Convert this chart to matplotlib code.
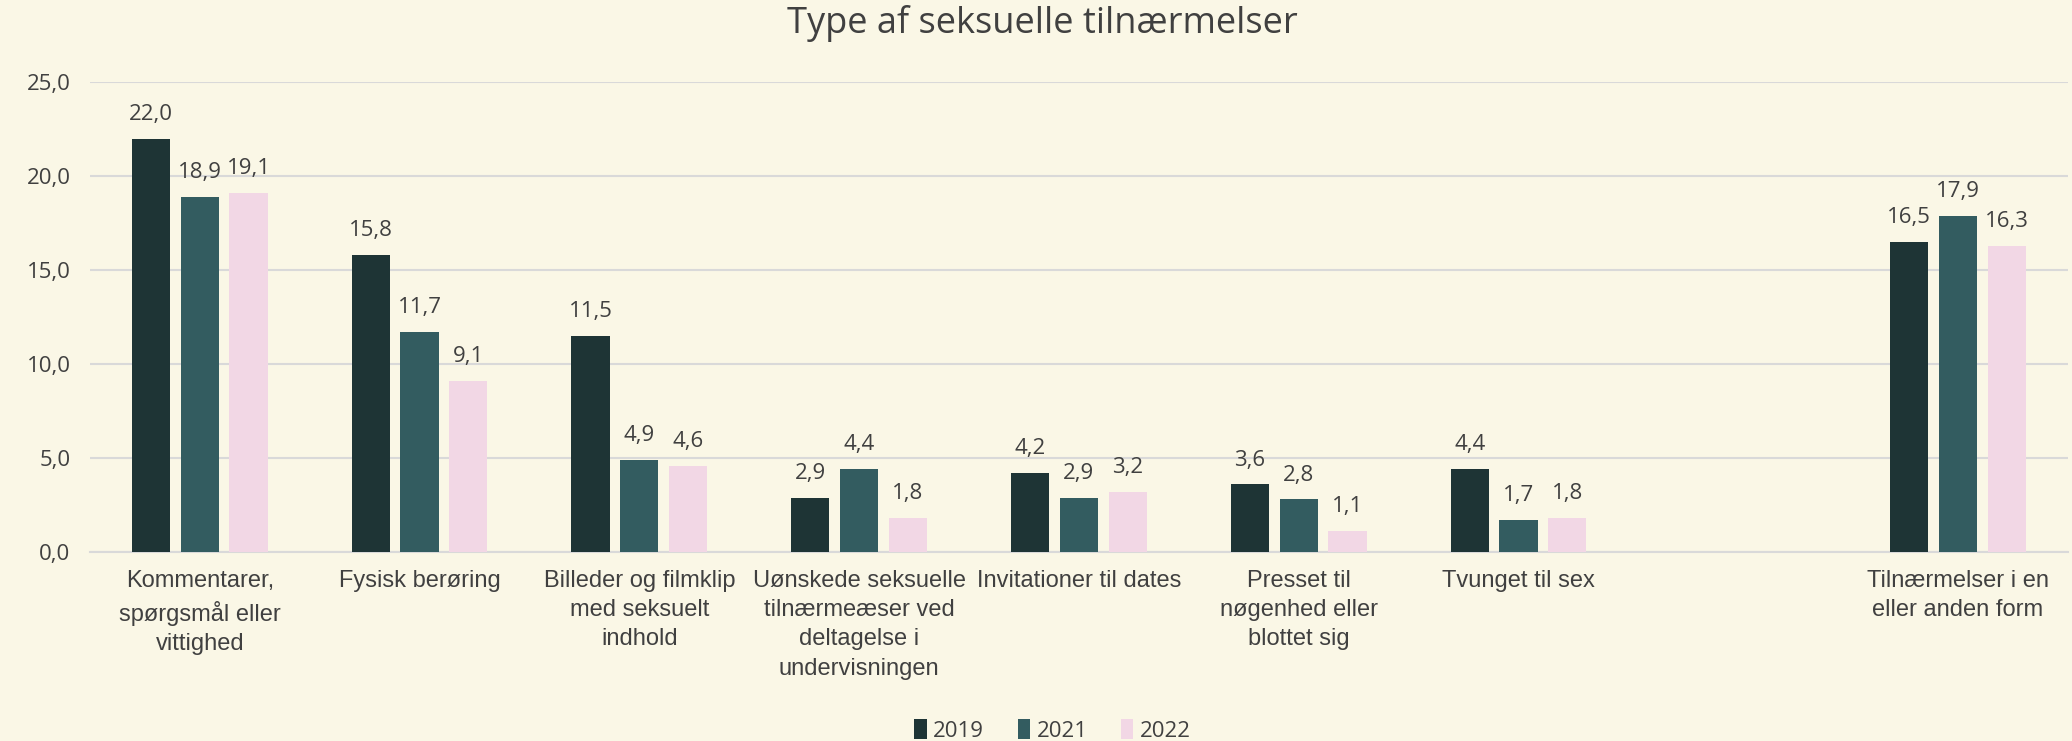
import matplotlib
matplotlib.use("Agg")
import matplotlib.pyplot as plt
import numpy as np
from matplotlib.patches import Patch

categories = [
    "Kommentarer,\nspørgsmål eller\nvittighed",
    "Fysisk berøring",
    "Billeder og filmklip\nmed seksuelt\nindhold",
    "Uønskede seksuelle\ntilnærmeæser ved\ndeltagelse i\nundervisningen",
    "Invitationer til dates",
    "Presset til\nnøgenhed eller\nblottet sig",
    "Tvunget til sex",
    "",
    "Tilnærmelser i en\neller anden form",
]
years = ["2019", "2021", "2022"]
v2019 = [22.0, 15.8, 11.5, 2.9, 4.2, 3.6, 4.4, None, 16.5]
v2021 = [18.9, 11.7, 4.9, 4.4, 2.9, 2.8, 1.7, None, 17.9]
v2022 = [19.1, 9.1, 4.6, 1.8, 3.2, 1.1, 1.8, None, 16.3]
series = [v2019, v2021, v2022]
colors = ["#1e3435", "#335c60", "#f2d7e5"]
yticks = [0, 5, 10, 15, 20, 25]

bg = "#faf7e6"
txt = "#404040"
main_font = ["Open Sans", "DejaVu Sans"]
narrow_font = ["Liberation Sans Narrow", "Liberation Sans", "DejaVu Sans"]

fig = plt.figure(figsize=(20.72, 7.41), dpi=100, facecolor=bg)
ax = fig.add_axes([0.0434, 0.255, 0.9546, 0.634])
ax.set_facecolor(bg)

x = np.arange(len(categories))
width = 0.174
step = 0.222
for i, (vals, c, yr) in enumerate(zip(series, colors, years)):
    xs = [xi + (i - 1) * step for xi, v in zip(x, vals) if v is not None]
    vs = [v for v in vals if v is not None]
    bars = ax.bar(xs, vs, width=width, color=c, zorder=3, label=yr)
    for xb, v in zip(xs, vs):
        ax.annotate(f"{v:.1f}".replace(".", ","), (xb, v), xytext=(0, 10),
                    textcoords="offset points", ha="center", va="bottom",
                    fontsize=16, color=txt, family=main_font)

ax.set_xlim(-0.5, 8.5)
ax.set_ylim(0, 25)
ax.set_yticks(yticks)
ax.set_yticklabels([f"{t:.1f}".replace(".", ",") for t in yticks],
                   fontsize=16, color=txt, family=main_font)
ax.yaxis.grid(True, color="#d9d9d9", linewidth=1.5, zorder=0)
ax.set_xticks(x)
ax.set_xticklabels(categories, fontsize=17, color=txt, family=narrow_font,
                   linespacing=1.42, va="top")
ax.tick_params(axis="both", length=0)
ax.tick_params(axis="x", pad=13)
ax.tick_params(axis="y", pad=14)
for s in ["top", "right", "left"]:
    ax.spines[s].set_visible(False)
ax.spines["bottom"].set_color("#d9d9d9")
ax.spines["bottom"].set_linewidth(1.5)

fig.text(0.503, 0.968, "Type af seksuelle tilnærmelser", ha="center", va="center",
         fontsize=26, color=txt, family=main_font)

handles = [Patch(facecolor=c, label=y) for c, y in zip(colors, years)]
leg = fig.legend(handles=handles, loc="center", bbox_to_anchor=(0.508, 0.014),
                 ncol=3, frameon=False, handlelength=0.55, handleheight=1.0,
                 handletextpad=0.3, columnspacing=1.5,
                 prop={"family": main_font, "size": 16})
for t in leg.get_texts():
    t.set_color(txt)

fig.savefig("out.png", dpi=100, facecolor=bg)
